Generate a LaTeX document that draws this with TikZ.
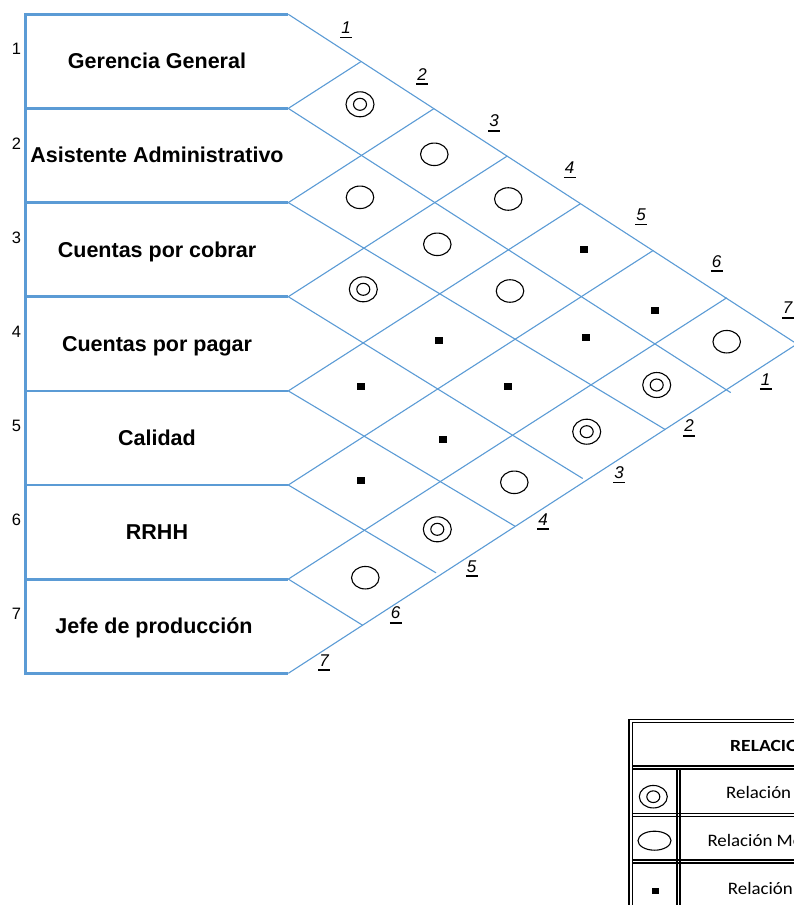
\documentclass[tikz,border=0pt]{standalone}
\usepackage{fontspec}
\setmainfont{Liberation Sans}
\newfontfamily\legendfont{Carlito}
\usetikzlibrary{shapes.geometric}
\definecolor{gridblue}{RGB}{91,155,213}
\newcommand\ulnum[1]{\setbox0\hbox{\itshape #1}\rlap{\kern-1pt\rule[-4.8pt]{\dimexpr\wd0+2.5pt\relax}{1.6pt}}\box0}
\tikzset{
  boxline/.style={draw=gridblue, line width=2.8pt},
  gridline/.style={draw=gridblue, line width=1.1pt},
  rowlabel/.style={font=\fontsize{21.5}{25}\selectfont\bfseries, anchor=base, inner sep=0pt},
  rownum/.style={font=\fontsize{16.5}{19}\selectfont, anchor=center, inner sep=0pt},
  idxlabel/.style={font=\fontsize{17}{19}\selectfont, anchor=base, inner sep=0pt},
  ringsym/.style={ellipse, draw=black, line width=1.1pt, minimum width=27.5pt, minimum height=22.5pt, inner sep=0pt},
  dblout/.style={ellipse, draw=black, line width=1.1pt, minimum width=28pt, minimum height=25pt, inner sep=0pt},
  dblin/.style={ellipse, draw=black, line width=1.1pt, minimum width=13pt, minimum height=12pt, inner sep=0pt},
  dotsym/.style={rectangle, fill=black, minimum width=8pt, minimum height=7pt, inner sep=0pt},
  legline/.style={draw=black, line width=1.2pt},
  leghead/.style={font=\legendfont\fontsize{17}{20}\selectfont\bfseries, anchor=base west, inner sep=0pt},
  legtext/.style={font=\legendfont\fontsize{17.5}{20}\selectfont, anchor=base west, inner sep=0pt}
}
\begin{document}
\begin{tikzpicture}[x=1pt,y=-1pt]
\useasboundingbox (0,0) rectangle (794,905);
\clip (0,0) rectangle (794,905);

% ---- coordinates
\foreach \k/\y in {0/14.3,1/108.4,2/202.6,3/296.7,4/390.9,5/485.0,6/579.1,7/673.3}{
  \coordinate (L\k) at (288.3,\y);
  \coordinate (W\k) at (25.3,\y);
}
\coordinate (R) at (797,344);
\coordinate (T1) at (361,61.6);
\coordinate (T2) at (434,108.6);
\coordinate (T3) at (507.3,156);
\coordinate (T4) at (580.7,203.5);
\coordinate (T5) at (653.3,250.4);
\coordinate (T6) at (726.7,297.8);
\coordinate (B1) at (730.7,392.6);
\coordinate (B2) at (665,429.4);
\coordinate (B3) at (582.7,478.5);
\coordinate (B4) at (515,526.2);
\coordinate (B5) at (436,572.8);
\coordinate (B6) at (362.7,625.3);

% ---- left boxes
\draw[boxline, line join=miter] (L0) -- (W0) -- (W7) -- (L7);
\foreach \k in {1,...,6} \draw[boxline] (W\k) -- (L\k);

% ---- triangular grid
\draw[gridline] (L0) -- (R) -- (L7);
\foreach \k in {1,...,6} {
  \draw[gridline] (L\k) -- (B\k);
  \draw[gridline] (L\k) -- (T\k);
}

% ---- row labels
\node[rowlabel] (r1) at (157,68.8) {Gerencia General};
\node[rowlabel] (r2) at (157,162.9) {Asistente Administrativo};
\node[rowlabel] (r3) at (157,257.1) {Cuentas por cobrar};
\node[rowlabel] (r4) at (157,351.2) {Cuentas por pagar};
\node[rowlabel] (r5) at (157,445.4) {Calidad};
\node[rowlabel] (r6) at (157,539.5) {RRHH};
\node[rowlabel] (r7) at (154,633.6) {Jefe de producción};

% ---- row numbers
\node[rownum] (n1) at (16.5,49.2) {1};
\node[rownum] (n2) at (16.5,143.3) {2};
\node[rownum] (n3) at (16.5,237.5) {3};
\node[rownum] (n4) at (16.5,331.6) {4};
\node[rownum] (n5) at (16.5,425.8) {5};
\node[rownum] (n6) at (16.5,519.9) {6};
\node[rownum] (n7) at (16.5,614.1) {7};

% ---- top index labels
\node[idxlabel] (t1) at (346,33.5) {\ulnum{1}};
\node[idxlabel] (t2) at (422,80.2) {\ulnum{2}};
\node[idxlabel] (t3) at (494,126.9) {\ulnum{3}};
\node[idxlabel] (t4) at (569.6,173.6) {\ulnum{4}};
\node[idxlabel] (t5) at (641,220.3) {\ulnum{5}};
\node[idxlabel] (t6) at (716.7,267) {\ulnum{6}};
\node[idxlabel] (t7) at (787.5,313.7) {\ulnum{7}};

% ---- bottom index labels
\node[idxlabel] (b1) at (765.5,385) {\ulnum{1}};
\node[idxlabel] (b2) at (689,431.7) {\ulnum{2}};
\node[idxlabel] (b3) at (619,478.3) {\ulnum{3}};
\node[idxlabel] (b4) at (543,525) {\ulnum{4}};
\node[idxlabel] (b5) at (471.7,572) {\ulnum{5}};
\node[idxlabel] (b6) at (395.7,618.7) {\ulnum{6}};
\node[idxlabel] (b7) at (324,666) {\ulnum{7}};

% ---- relation symbols
\node[dblout] (c12) at (360,104.3) {};   \node[dblin] (c12i) at (c12) {};
\node[ringsym] (c13) at (434.3,154.3) {};
\node[ringsym] (c23) at (360,197.3) {};
\node[ringsym] (c14) at (508.3,199) {};
\node[ringsym] (c24) at (437.3,244.3) {};
\node[dotsym] (c15) at (584.3,249.3) {};
\node[dblout] (c34) at (363.3,289.3) {};  \node[dblin] (c34i) at (c34) {};
\node[ringsym] (c25) at (510,291) {};
\node[dotsym] (c16) at (655,310) {};
\node[dotsym] (c35) at (439.3,340) {};
\node[dotsym] (c26) at (586,337.3) {};
\node[ringsym] (c17) at (726.7,341.7) {};
\node[dotsym] (c45) at (361,386) {};
\node[dotsym] (c36) at (508,386) {};
\node[dblout] (c27) at (656.7,385) {};  \node[dblin] (c27i) at (c27) {};
\node[dotsym] (c46) at (443.3,439.3) {};
\node[dblout] (c37) at (586.7,431.7) {};  \node[dblin] (c37i) at (c37) {};
\node[dotsym] (c56) at (361,480) {};
\node[ringsym] (c47) at (514.3,482.3) {};
\node[dblout] (c57) at (437.3,529.3) {};  \node[dblin] (c57i) at (c57) {};
\node[ringsym] (c67) at (365.3,577.7) {};

% ---- legend table
\coordinate (g1) at (629,910);   \coordinate (g2) at (629,719.5);  \coordinate (g3) at (800,719.5);
\coordinate (g4) at (632.5,910); \coordinate (g5) at (632.5,722.8); \coordinate (g6) at (800,722.8);
\draw[legline, line join=miter] (g1) -- (g2) -- (g3);
\draw[legline, line join=miter] (g4) -- (g5) -- (g6);
\foreach \yy [count=\i] in {766,769,813.2,816.2,860,863}{
  \coordinate (hs\i) at (632.5,\yy);
  \coordinate (he\i) at (800,\yy);
  \draw[legline] (hs\i) -- (he\i);
}
\coordinate (v1a) at (677,769); \coordinate (v1b) at (677,910);
\coordinate (v2a) at (680,769); \coordinate (v2b) at (680,910);
\draw[legline] (v1a) -- (v1b);
\draw[legline] (v2a) -- (v2b);

\node[dblout, minimum width=28pt, minimum height=22.5pt] (s1) at (653.3,796.7) {};
\node[dblin, minimum width=13pt, minimum height=11.7pt] (s1i) at (s1) {};
\node[ringsym, minimum width=33pt, minimum height=19pt] (s2) at (654.5,840.7) {};
\node[dotsym, minimum width=7.5pt, minimum height=6pt] (s3) at (655.5,890.5) {};

\node[leghead] (lh) at (730,751) {\scalebox{1.15}[1]{RELACIONES}};
\node[legtext] (l1) at (726,798) {\scalebox{1.08}[1]{Relación Alta}};
\node[legtext] (l2) at (707.3,846.5) {\scalebox{1.08}[1]{Relación Media}};
\node[legtext] (l3) at (727.7,894) {\scalebox{1.08}[1]{Relación Baja}};
\end{tikzpicture}
\end{document}
